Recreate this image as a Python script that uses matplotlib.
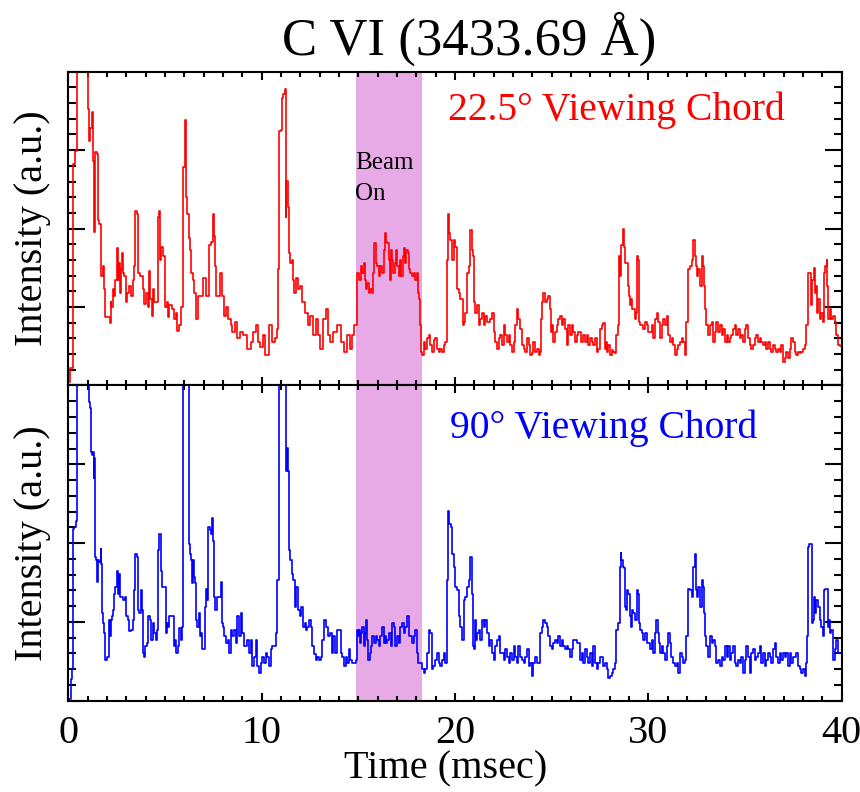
import numpy as np
import matplotlib
matplotlib.use('Agg')
import matplotlib.pyplot as plt
from matplotlib.ticker import MultipleLocator

plt.rcParams['font.family'] = ['Liberation Serif', 'DejaVu Serif']

# 22.5 deg viewing chord, (time msec, intensity a.u.)
red_a = [(0.0,0.05),(0.19,0.22),(0.28,2.82),(0.45,2.99),(0.5,4.5),(1.0,4.5),(1.02,3.95),(1.06,3.53),(1.10,3.11),(1.19,3.28),
         (1.27,3.49),(1.29,2.86),(1.34,1.96),(1.38,2.19),(1.43,2.97),(1.50,2.95),(1.53,2.11),(1.65,2.06),(1.69,1.60),(1.74,1.39),
         (1.82,1.52),(1.88,1.23),(1.94,0.87),(2.13,0.87),(2.17,0.79),(2.20,1.06),(2.25,1.00),(2.34,1.23),(2.39,1.14),(2.48,1.35),
         (2.51,1.75),(2.60,1.35),(2.68,1.56),(2.72,1.18),(2.77,1.48),(2.80,1.69),(2.86,1.44),(2.94,1.39),(2.99,1.06),(3.11,1.18),
         (3.20,1.27),(3.29,1.14),(3.37,1.35),(3.44,1.52),(3.49,2.23),(3.58,2.19),(3.63,1.44),(3.80,1.39),(3.89,1.23),(3.97,1.04),
         (4.06,1.18),(4.15,1.00),(4.20,1.46),(4.27,1.10),(4.34,0.89),(4.40,1.23),(4.49,1.06),(4.61,1.06),(4.65,2.15),(4.71,2.23),
         (4.78,1.60),(4.85,1.77),(4.97,1.65),(5.06,1.00),(5.13,1.06),(5.20,0.87),(5.26,1.02),(5.44,0.97),(5.52,0.85),(5.61,0.93),
         (5.64,0.70),(5.78,0.77),(5.92,1.00),(5.99,2.78),(6.07,3.39),(6.09,2.40),(6.21,2.19),(6.26,1.88),(6.30,1.73),(6.38,1.44),
         (6.47,1.35),(6.55,1.18),(6.60,1.18),(6.64,0.85),(6.73,1.14),(6.90,1.14),(7.07,1.37),(7.16,1.14),(7.24,1.14),(7.33,1.79),
         (7.42,1.83),(7.50,2.19),(7.54,1.90),(7.60,1.52),(7.67,1.14),(7.81,1.14),(7.93,1.44),(8.02,1.14),(8.10,0.89),(8.19,1.00),
         (8.36,0.85),(8.45,0.77),(8.53,0.68),(8.71,0.81),(8.79,0.60),(8.96,0.68),(9.14,0.64),(9.39,0.47),(9.48,0.56),(9.65,0.68),
         (9.74,0.77),(9.88,0.56),(10.0,0.49),(10.12,0.64),(10.22,0.39),(10.34,0.39),(10.43,0.77),(10.60,0.56),(10.77,0.60),(10.86,0.72),
         (10.87,1.48),(10.94,3.24),(11.03,3.26),(11.06,3.66),(11.15,3.72),(11.23,3.78),(11.24,2.86),(11.25,2.15),(11.32,2.61),(11.39,2.27),
         (11.42,1.69),(11.54,1.56),(11.60,1.60),(11.66,1.35),(11.72,1.18),(11.84,1.37),(11.94,1.23),(12.01,1.27),(12.15,1.06),(12.32,0.93),
         (12.46,0.77),(12.58,0.89),(12.75,0.64),(12.87,0.85),(12.97,0.64),(13.09,0.47),(13.26,0.85),(13.38,0.97),(13.45,0.64),(13.61,0.56),
         (13.78,0.68),(14.04,0.77),(14.18,0.56),(14.31,0.43),(14.47,0.64),(14.64,0.47),(14.73,0.64),(14.86,0.77),(14.98,1.44)]
red_b = [(15.07,1.35),(15.16,1.52),(15.24,1.44),(15.33,1.56),(15.38,1.35),(15.45,1.23),(15.50,1.31),(15.59,1.18),(15.67,1.23),(15.73,1.18),
         (15.76,1.44),(15.85,1.81),(15.93,1.56),(16.02,1.52),(16.10,1.39),(16.19,1.52),(16.28,1.44),(16.33,1.73),(16.40,1.94),(16.45,1.83),
         (16.53,1.81),(16.62,1.60),(16.67,1.35),(16.74,1.73),(16.79,1.60),(16.84,1.44),(16.93,1.56),(17.00,1.73),(17.05,1.52),(17.14,1.39),
         (17.19,1.60),(17.27,1.39),(17.34,1.65),(17.39,1.75),(17.45,1.56),(17.53,1.73),(17.60,1.69),(17.65,1.48),(17.74,1.44),(17.82,1.39),
         (17.91,1.44),(18.00,1.35),(18.05,1.44),(18.08,1.18),(18.17,1.10),(18.22,0.77),(18.25,0.43),(18.34,0.39),(18.43,0.56),(18.51,0.47),
         (18.60,0.60),(18.69,0.64),(18.77,0.51),(18.86,0.43),(18.94,0.58),(19.03,0.60),(19.12,0.47),(19.20,0.43),(19.29,0.47),(19.37,0.43),
         (19.46,0.51),(19.55,0.56),(19.60,1.60),(19.67,2.19),(19.72,1.94),(19.80,1.86),(19.89,1.60),(19.98,1.86),(20.06,1.77),(20.15,1.23),
         (20.23,1.18),(20.32,1.10),(20.41,1.10),(20.44,0.77),(20.49,0.81),(20.58,0.93),(20.66,1.44),(20.75,1.52),(20.84,1.98),(20.89,1.73),
         (20.96,1.65),(21.01,1.06),(21.09,0.93),(21.18,1.02),(21.27,0.77),(21.35,0.85),(21.44,0.93),(21.52,0.77),(21.61,0.89),(21.70,0.81),
         (21.78,0.81),(21.87,0.85),(21.95,0.93),(22.04,0.68),(22.13,0.56),(22.21,0.47),(22.30,0.60),(22.38,0.64),(22.47,0.51),(22.56,0.77),
         (22.64,0.64),(22.73,0.56),(22.81,0.64),(22.90,0.51),(22.99,0.43),(23.07,0.56),(23.16,0.77),(23.24,0.97),(23.33,0.85),(23.42,0.72),
         (23.50,0.51),(23.59,0.47),(23.67,0.43),(23.76,0.60),(23.85,0.51),(23.93,0.39),(24.02,0.41),(24.10,0.56),(24.19,0.43),(24.28,0.47),
         (24.36,0.39),(24.41,0.43),(24.47,0.85),(24.53,1.06),(24.62,1.18),(24.71,1.06),(24.79,1.10),(24.88,1.14),(24.93,0.97),(24.96,0.68),
         (25.05,0.77),(25.14,0.56),(25.22,0.68),(25.31,0.77),(25.39,0.85),(25.48,0.89),(25.57,0.77),(25.65,0.85),(25.74,0.72),(25.82,0.51),
         (25.91,0.77),(26.00,0.64),(26.08,0.77),(26.17,0.68),(26.25,0.56),(26.34,0.64)]
red_c = [(26.43,0.68),(26.60,0.56),(26.69,0.64),(26.77,0.56),(26.86,0.64),(26.95,0.51),(27.03,0.60),(27.12,0.56),(27.20,0.51),(27.29,0.60),
         (27.38,0.43),(27.46,0.47),(27.55,0.72),(27.63,0.77),(27.72,0.79),(27.77,0.47),(27.81,0.56),(27.89,0.43),(27.98,0.51),(28.06,0.39),
         (28.15,0.45),(28.24,0.43),(28.32,0.41),(28.37,0.64),(28.46,0.77),(28.53,1.65),(28.58,1.39),(28.63,1.79),(28.70,2.00),(28.75,1.77),
         (28.84,1.56),(28.92,1.56),(28.98,1.27),(29.01,1.14),(29.06,1.02),(29.13,1.10),(29.18,0.97),(29.27,0.97),(29.35,0.85),(29.41,0.93),
         (29.44,1.65),(29.49,1.60),(29.56,0.81),(29.61,0.77),(29.70,0.77),(29.78,0.72),(29.87,0.81),(29.96,0.77),(30.04,0.68),(30.13,0.68),
         (30.21,0.77),(30.30,0.60),(30.39,0.85),(30.47,0.93),(30.56,0.81),(30.65,0.60),(30.73,0.77),(30.82,0.85),(30.90,0.77),(30.99,0.89),
         (31.08,0.64),(31.16,0.56),(31.25,0.60),(31.33,0.51),(31.42,0.39),(31.51,0.47),(31.59,0.51),(31.68,0.56),(31.76,0.60),(31.85,0.56),
         (31.94,0.39),(31.99,0.81),(32.07,1.48),(32.19,1.52),(32.28,1.60),(32.37,1.86),(32.42,1.65),(32.49,1.52),(32.54,1.39),(32.62,1.48),
         (32.71,1.27),(32.80,1.65),(32.85,1.52),(32.88,1.27),(32.93,0.97),(33.05,0.77),(33.14,0.64),(33.23,0.77),(33.31,0.81),(33.40,0.56),
         (33.48,0.68),(33.57,0.81),(33.66,0.68),(33.74,0.77),(33.83,0.64),(33.91,0.72),(34.00,0.56),(34.09,0.64),(34.17,0.56),(34.26,0.60),
         (34.34,0.64),(34.43,0.72),(34.52,0.77),(34.60,0.64),(34.69,0.72),(34.77,0.60),(34.86,0.64),(34.95,0.56),(35.03,0.72),(35.12,0.77),
         (35.20,0.60),(35.29,0.51),(35.38,0.47),(35.46,0.51),(35.55,0.60),(35.63,0.64),(35.72,0.56),(35.81,0.60),(35.89,0.56),(35.98,0.51),
         (36.06,0.56),(36.15,0.47),(36.24,0.56),(36.32,0.47),(36.41,0.43),(36.49,0.51),(36.58,0.47),(36.67,0.43),(36.75,0.47),(36.84,0.43),
         (36.92,0.51),(37.01,0.30),(37.10,0.35),(37.18,0.43),(37.27,0.35),(37.35,0.47),(37.44,0.60),(37.53,0.56),(37.61,0.43),(37.70,0.39),
         (37.78,0.43),(37.87,0.41),(37.96,0.43),(38.04,0.47),(38.13,0.51),(38.21,0.77),(38.27,1.44),(38.34,1.44),(38.39,1.44),(38.44,1.02),
         (38.51,1.35),(38.59,1.50),(38.64,1.18),(38.70,1.27),(38.78,0.93),(38.82,1.10),(38.90,0.85),(38.99,0.93),(39.07,0.81),(39.11,1.44),
         (39.19,1.52),(39.25,1.60),(39.28,1.27),(39.33,0.85),(39.42,0.97),(39.50,0.85),(39.59,0.89),(39.68,0.81),(39.76,0.64),(39.85,0.51),
         (40.0,0.50)]

# 90 deg viewing chord
blue_a = [(0.0,0.02),(0.10,0.02),(0.19,0.27),(0.24,0.40),(0.28,2.18),(0.36,2.20),(0.45,2.28),(0.47,4.5),(1.0,4.5),(1.02,4.0),
          (1.10,3.79),(1.14,3.71),(1.17,3.16),(1.26,3.12),(1.31,3.16),(1.32,2.83),(1.36,3.08),(1.38,1.82),(1.45,1.78),(1.48,1.53),
          (1.53,1.51),(1.57,1.78),(1.65,1.76),(1.69,1.93),(1.74,1.74),(1.79,1.11),(1.82,0.98),(1.88,0.86),(1.94,0.52),(2.08,0.56),
          (2.12,1.03),(2.17,0.82),(2.22,1.03),(2.29,1.07),(2.34,1.15),(2.39,1.36),(2.48,1.44),(2.55,1.65),(2.60,1.36),(2.65,1.61),
          (2.74,1.32),(2.80,1.32),(2.89,1.28),(2.96,1.32),(3.03,1.07),(3.11,1.03),(3.20,0.88),(3.29,0.90),(3.37,1.03),(3.44,1.40),
          (3.49,1.86),(3.58,1.82),(3.63,1.15),(3.72,1.11),(3.77,1.40),(3.84,1.15),(3.89,0.61),(3.94,0.56),(4.01,0.69),(4.09,0.73),
          (4.18,1.07),(4.23,1.03),(4.32,0.77),(4.40,0.98),(4.49,0.86),(4.58,0.77),(4.63,0.90),(4.68,1.91),(4.75,2.12),(4.80,1.65),
          (4.87,1.44),(5.01,1.44),(5.06,0.86),(5.13,0.98),(5.20,0.94),(5.26,1.07),(5.44,1.07),(5.47,0.69),(5.54,0.77),(5.61,0.61),
          (5.69,0.69),(5.78,0.92),(5.87,0.77),(5.92,0.94),(5.99,4.5),(6.23,4.5),(6.25,1.99),(6.30,1.86),(6.35,1.78),(6.40,1.49),
          (6.47,1.78),(6.52,1.57),(6.61,1.49),(6.64,1.03),(6.71,0.94),(6.78,1.11),(6.85,0.82),(6.90,0.86),(6.98,0.65),(7.05,0.65),
          (7.07,1.19),(7.16,1.42),(7.21,1.28),(7.28,2.20),(7.36,2.16),(7.42,2.12),(7.45,2.32),(7.50,2.03),(7.54,1.32),(7.64,1.15),
          (7.72,1.32),(7.85,1.32),(7.90,1.51),(7.97,0.98),(8.02,0.94),(8.10,0.82),(8.19,0.73),(8.28,0.77),(8.36,0.61),(8.45,0.90),
          (8.53,0.82),(8.62,0.90),(8.71,0.73),(8.79,1.07),(8.88,0.82),(8.96,1.11),(9.02,0.86),(9.14,0.69),(9.22,0.69),(9.31,0.77),
          (9.39,0.61),(9.48,0.77),(9.57,0.44),(9.65,0.56),(9.74,0.77),(9.82,0.44),(9.91,0.35),(10.0,0.48),(10.08,0.56),(10.17,0.48),
          (10.25,0.61),(10.34,0.56),(10.43,0.44),(10.51,0.65),(10.60,0.69),(10.68,0.69),(10.77,0.86),(10.86,1.53),(10.94,4.5),(11.25,4.5),
          (11.29,2.91),(11.34,3.21),(11.39,2.91),(11.42,1.91),(11.54,1.78),(11.60,1.61),(11.66,1.53),(11.75,1.19),(11.84,1.44),(11.94,1.15),
          (12.03,1.07),(12.09,1.19),(12.18,0.94),(12.27,0.98),(12.32,0.90),(12.40,0.94),(12.49,1.03),(12.58,0.94),(12.66,0.69),(12.75,0.59),
          (12.83,0.52),(12.92,0.56),(13.01,0.52),(13.09,0.56),(13.18,0.77),(13.30,1.03),(13.38,0.94),(13.49,0.82),(13.57,0.86),(13.66,0.61),
          (13.75,0.82),(13.83,0.61),(13.95,0.90),(14.04,0.90),(14.12,0.61),(14.21,0.56),(14.30,0.44),(14.38,0.56),(14.47,0.48),(14.55,0.65),
          (14.64,0.52),(14.73,0.48),(14.81,0.48),(14.90,0.52),(14.95,0.90)]
blue_b = [(14.99,0.82),(15.04,0.90),(15.11,0.73),(15.16,0.86),(15.24,0.94),(15.30,0.69),(15.36,0.86),(15.42,1.03),(15.50,0.77),(15.55,0.52),
          (15.62,0.61),(15.67,0.69),(15.76,0.82),(15.85,0.73),(15.93,0.82),(16.02,0.77),(16.10,0.69),(16.19,0.82),(16.28,0.94),(16.33,0.73),
          (16.40,0.82),(16.45,0.73),(16.53,0.77),(16.62,0.86),(16.71,0.69),(16.79,0.98),(16.88,0.94),(16.96,0.69),(17.05,0.82),(17.14,0.73),
          (17.22,0.94),(17.31,0.98),(17.39,0.86),(17.48,0.94),(17.57,1.07),(17.65,0.82),(17.74,0.82),(17.82,0.73),(17.91,0.82),(18.00,0.90),
          (18.05,0.61),(18.12,0.48),(18.25,0.48),(18.34,0.40),(18.43,0.35),(18.51,0.40),(18.60,0.61),(18.69,0.90),(18.77,0.86),(18.82,0.40),
          (18.94,0.44),(19.03,0.52),(19.12,0.61),(19.20,0.48),(19.29,0.44),(19.37,0.52),(19.46,0.61),(19.55,0.48),(19.58,1.53),(19.67,2.41),
          (19.75,2.24),(19.84,2.20),(19.89,1.86),(19.98,1.70),(20.06,1.44),(20.15,1.40),(20.23,1.07),(20.28,0.94),(20.35,0.94),(20.41,0.77),
          (20.49,1.28),(20.58,1.32),(20.66,1.44),(20.75,1.53),(20.84,1.82),(20.89,1.36),(20.96,0.69),(21.01,0.65),(21.06,1.03),(21.13,0.77),
          (21.18,0.86),(21.27,0.90),(21.35,0.77),(21.44,1.03),(21.52,0.94),(21.61,1.03),(21.70,0.86),(21.78,0.69),(21.87,0.77),(21.95,0.61),
          (22.04,0.52),(22.13,0.69),(22.21,0.77),(22.30,0.82),(22.38,0.61),(22.47,0.61),(22.56,0.52),(22.64,0.65),(22.73,0.56),(22.81,0.48),
          (22.90,0.61),(22.99,0.52),(23.07,0.69),(23.16,0.56),(23.24,0.48),(23.33,0.69),(23.42,0.56),(23.50,0.52),(23.59,0.48),(23.67,0.56),
          (23.76,0.65),(23.85,0.44),(23.93,0.48),(24.02,0.31),(24.10,0.48),(24.19,0.56),(24.28,0.48),(24.36,0.48),(24.45,0.86),(24.53,0.94),
          (24.62,1.03),(24.71,0.98),(24.79,0.94),(24.88,0.82),(24.96,0.69),(25.05,0.65),(25.14,0.73),(25.22,0.77),(25.31,0.73),(25.39,0.82),
          (25.48,0.69),(25.57,0.77),(25.65,0.69),(25.74,0.65),(25.82,0.69),(25.91,0.65),(26.00,0.56),(26.08,0.65),(26.17,0.77),(26.25,0.77),
          (26.34,0.73)]
blue_c = [(26.43,0.73),(26.52,0.52),(26.60,0.61),(26.69,0.48),(26.77,0.65),(26.86,0.56),(26.95,0.48),(27.03,0.61),(27.12,0.44),(27.20,0.69),
          (27.29,0.48),(27.38,0.40),(27.46,0.48),(27.55,0.56),(27.63,0.56),(27.72,0.44),(27.81,0.48),(27.89,0.40),(27.98,0.29),(28.06,0.31),
          (28.15,0.35),(28.24,0.40),(28.32,0.48),(28.37,0.90),(28.49,0.98),(28.55,1.70),(28.58,1.88),(28.63,1.78),(28.70,1.70),(28.75,1.68),
          (28.80,1.19),(28.87,1.15),(28.92,1.40),(29.01,1.36),(29.06,1.07),(29.10,0.94),(29.18,1.15),(29.27,1.11),(29.35,1.03),(29.44,1.40),
          (29.49,1.36),(29.53,0.98),(29.61,0.90),(29.70,0.86),(29.78,0.77),(29.87,0.86),(29.96,0.73),(30.04,0.73),(30.13,0.65),(30.21,0.77),
          (30.30,0.61),(30.39,0.86),(30.44,1.03),(30.51,0.86),(30.56,0.73),(30.65,0.61),(30.73,0.69),(30.82,0.61),(30.90,0.52),(30.99,0.69),
          (31.08,0.86),(31.13,0.73),(31.21,0.56),(31.33,0.48),(31.42,0.44),(31.51,0.48),(31.59,0.35),(31.68,0.61),(31.76,0.56),(31.85,0.48),
          (31.94,0.52),(31.99,0.82),(32.07,1.42),(32.19,1.40),(32.28,1.32),(32.37,1.70),(32.42,1.86),(32.49,1.40),(32.56,1.32),(32.62,1.44),
          (32.71,1.19),(32.80,1.53),(32.85,1.44),(32.88,1.11),(32.93,0.82),(33.05,0.69),(33.14,0.56),(33.23,0.82),(33.31,0.73),(33.40,0.77),
          (33.48,0.69),(33.57,0.48),(33.66,0.52),(33.74,0.44),(33.83,0.56),(33.91,0.52),(34.00,0.69),(34.09,0.56),(34.17,0.69),(34.26,0.52),
          (34.34,0.61),(34.43,0.69),(34.52,0.48),(34.60,0.44),(34.69,0.52),(34.77,0.48),(34.86,0.56),(34.95,0.35),(35.03,0.52),(35.12,0.69),
          (35.20,0.56),(35.29,0.35),(35.38,0.61),(35.46,0.65),(35.55,0.52),(35.63,0.56),(35.72,0.61),(35.81,0.69),(35.89,0.48),(35.98,0.61),
          (36.06,0.44),(36.15,0.52),(36.24,0.61),(36.32,0.56),(36.41,0.48),(36.49,0.65),(36.58,0.73),(36.67,0.56),(36.75,0.48),(36.84,0.61),
          (36.92,0.52),(37.01,0.61),(37.10,0.56),(37.18,0.61),(37.27,0.44),(37.35,0.61),(37.44,0.48),(37.53,0.56),(37.61,0.56),(37.70,0.61),
          (37.78,0.44),(37.87,0.40),(37.96,0.35),(38.04,0.40),(38.13,0.31),(38.18,0.48),(38.21,0.82),(38.27,1.95),(38.39,1.99),(38.44,1.99),
          (38.47,0.98),(38.52,1.03),(38.59,1.32),(38.64,1.11),(38.73,1.28),(38.82,1.19),(38.90,1.03),(38.99,0.94),(39.04,0.82),(39.11,1.40),
          (39.19,1.42),(39.25,1.42),(39.30,0.94),(39.37,1.03),(39.42,0.86),(39.50,0.90),(39.59,0.52),(39.68,0.65),(39.76,0.77),(39.85,0.61),
          (40.0,0.60)]

beam_on = (14.9, 18.27)
beam_color = '#e8aae6'

fig = plt.figure(figsize=(8.6, 7.92), dpi=100)
ax1 = fig.add_axes([0.0794, 0.5133, 0.8993, 0.3962])
ax2 = fig.add_axes([0.0794, 0.1153, 0.8993, 0.3980], sharex=ax1)

for ax, trace, col in [(ax1, red_a + red_b + red_c, '#ff0000'),
                       (ax2, blue_a + blue_b + blue_c, '#0000ff')]:
    t, v = np.array(trace).T
    ax.axvspan(beam_on[0], beam_on[1], color=beam_color, lw=0, zorder=0)
    ax.plot(t, v, color=col, lw=1.2, drawstyle='steps-mid')
    ax.set_xlim(0, 40)
    ax.set_ylim(0, 4)
    ax.xaxis.set_major_locator(MultipleLocator(10))
    ax.xaxis.set_minor_locator(MultipleLocator(1))
    ax.yaxis.set_major_locator(MultipleLocator(1))
    ax.yaxis.set_minor_locator(MultipleLocator(0.2))
    ax.tick_params(which='both', direction='in', top=True, right=True,
                   labelleft=False, width=1.5, color='black')
    ax.tick_params(axis='y', which='major', length=12)
    ax.tick_params(axis='y', which='minor', length=6)
    ax.tick_params(axis='x', which='major', length=6)
    ax.tick_params(axis='x', which='minor', length=3.5)
    for s in ax.spines.values():
        s.set_linewidth(1.5)
    ax.set_ylabel('Intensity (a.u.)', fontsize=29)
    ax.yaxis.set_label_coords(-0.022, 0.5)

ax1.tick_params(labelbottom=False)
ax2.tick_params(axis='x', labelsize=29, pad=10)
ax2.set_xlabel('Time (msec)', fontsize=29)
ax2.xaxis.set_label_coords(0.488, -0.159)

# annotations
ax1.text(19.64, 3.38, '22.5° Viewing Chord', color='#ff0000', fontsize=28.5, va='baseline')
ax2.text(19.75, 3.33, '90° Viewing Chord', color='#0000ff', fontsize=28.5, va='baseline')
ax1.text(14.82, 2.76, 'Beam', fontsize=18, va='baseline')
ax1.text(14.82, 2.36, 'On', fontsize=18, va='baseline')

fig.text(469 / 860, 1 - 55 / 792, 'C VI (3433.69 Å)', fontsize=38, ha='center', va='baseline')

fig.savefig('out.png', dpi=100)
